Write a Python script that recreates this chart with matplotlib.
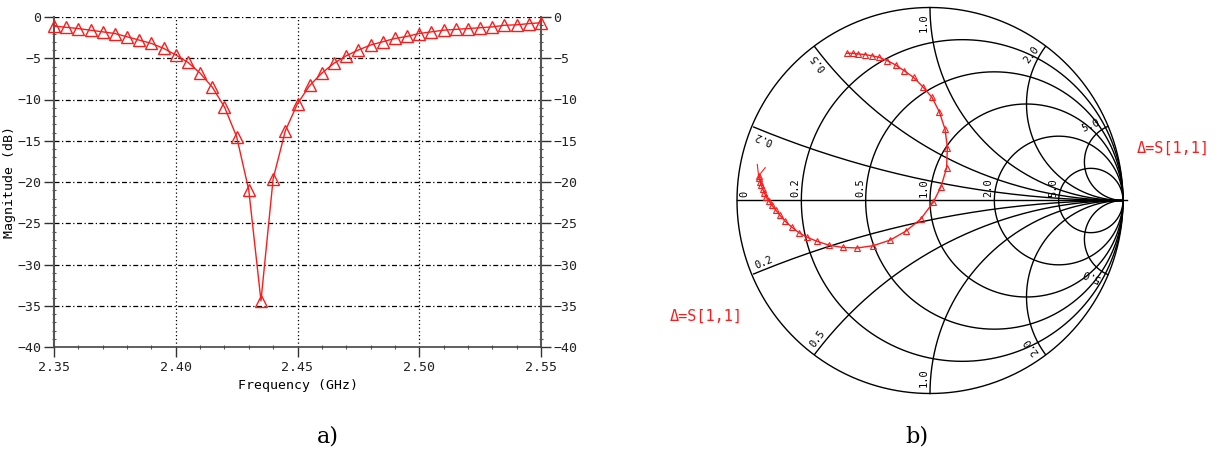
import numpy as np
import matplotlib
matplotlib.use("Agg")
import matplotlib.pyplot as plt
from matplotlib.ticker import MultipleLocator, FormatStrFormatter

# --- data a): return loss vs frequency ---
freq_ghz = [2.350, 2.355, 2.360, 2.365, 2.370, 2.375, 2.380, 2.385, 2.390, 2.395,
            2.400, 2.405, 2.410, 2.415, 2.420, 2.425, 2.430, 2.435, 2.440, 2.445,
            2.450, 2.455, 2.460, 2.465, 2.470, 2.475, 2.480, 2.485, 2.490, 2.495,
            2.500, 2.505, 2.510, 2.515, 2.520, 2.525, 2.530, 2.535, 2.540, 2.545,
            2.550]
s11_db = [-1.1, -1.25, -1.4, -1.6, -1.8, -2.0, -2.4, -2.8, -3.2, -3.8,
          -4.6, -5.5, -6.8, -8.5, -10.9, -14.5, -21.0, -34.4, -19.6, -13.8,
          -10.5, -8.3, -6.8, -5.6, -4.7, -4.0, -3.4, -3.0, -2.6, -2.35,
          -2.0, -1.8, -1.6, -1.5, -1.4, -1.3, -1.2, -1.0, -0.95, -0.8,
          -0.7]

# --- data b): S11 on the Smith chart (reflection coefficient) ---
gamma_re = [-0.432, -0.401, -0.371, -0.335, -0.301, -0.264, -0.221, -0.178, -0.135, -0.085,
            -0.038, 0.010, 0.048, 0.078, 0.090, 0.086, 0.057, 0.017, -0.048, -0.124,
            -0.206, -0.294, -0.377, -0.453, -0.522, -0.584, -0.636, -0.679, -0.717, -0.750,
            -0.777, -0.800, -0.820, -0.834, -0.850, -0.858, -0.867, -0.874, -0.879, -0.884,
            -0.888]
gamma_im = [0.763, 0.763, 0.759, 0.756, 0.750, 0.742, 0.725, 0.702, 0.673, 0.638,
            0.590, 0.535, 0.460, 0.369, 0.274, 0.168, 0.072, -0.009, -0.096, -0.158,
            -0.205, -0.234, -0.246, -0.243, -0.232, -0.212, -0.191, -0.167, -0.137, -0.108,
            -0.077, -0.049, -0.022, -0.003, 0.020, 0.041, 0.058, 0.079, 0.098, 0.115,
            0.127]
tail_re = [-0.895, -0.888, -0.854]   # sweep-end tick
tail_im = [0.187, 0.127, 0.170]

r_values = [0.2, 0.5, 1.0, 2.0, 5.0]
x_values = [0.2, 0.5, 1.0, 2.0, 5.0]

mono = "DejaVu Sans Mono"
red = "#ff1a1a"

W, H = 1228, 457
fig = plt.figure(figsize=(W / 100, H / 100), dpi=100)

# ---------------- a) ----------------
ax = fig.add_axes([54 / W, 1 - 347 / H, (541 - 54) / W, 330 / H])
ax.plot(freq_ghz, s11_db, color=red, lw=1.0, marker="^", ms=8,
        mfc="none", mec=red, mew=1.0, clip_on=False, zorder=3)
ax.set_xlim(2.35, 2.55)
ax.set_ylim(-40, 0)
ax.xaxis.set_major_locator(MultipleLocator(0.05))
ax.xaxis.set_major_formatter(FormatStrFormatter("%.2f"))
ax.yaxis.set_major_locator(MultipleLocator(5))
ax.yaxis.set_minor_locator(MultipleLocator(1))
ax.xaxis.set_minor_locator(MultipleLocator(0.01))

for y in np.arange(-35, 1, 5):
    ax.axhline(y, color="black", lw=0.9, ls=(0, (4, 2, 1, 2)), zorder=1)
for x in [2.40, 2.45, 2.50]:
    ax.axvline(x, color="black", lw=0.9, ls=(0, (1, 2)), zorder=1)

ax.spines["top"].set_visible(False)
for s in ["left", "right"]:
    ax.spines[s].set_color("#555555")
    ax.spines[s].set_linewidth(1.5)
ax.spines["bottom"].set_color("#444444")
ax.spines["bottom"].set_linewidth(1.2)

ax.tick_params(axis="y", which="major", direction="out", length=7, width=1,
               color="#333333", labelright=True, right=True, labelsize=9.5, pad=2)
ax.tick_params(axis="y", which="minor", direction="inout", length=3, width=0.8,
               color="#555555", right=True)
ax.tick_params(axis="x", which="major", direction="out", length=7, width=1,
               color="#333333", labelsize=9.5, pad=3)
ax.tick_params(axis="x", which="minor", direction="inout", length=3, width=0.8,
               color="#555555")
plt.setp(ax.yaxis.get_majorticklabels(), family=mono, color="#222222")
plt.setp(ax.xaxis.get_majorticklabels(), family=mono, color="#222222")
ax.set_xlabel("Frequency (GHz)", family=mono, fontsize=9.5, labelpad=4)
ax.set_ylabel("Magnitude (dB)", family=mono, fontsize=9.5)
ax.yaxis.set_label_coords(-0.078, 0.5)

# ---------------- b) Smith chart ----------------
cx, cy, R = 930, 200.5, 193
ax2 = fig.add_axes([640 / W, 0, (W - 640) / W, 1])
ax2.set_xlim((640 - cx) / R, (W - cx) / R)
ax2.set_ylim((cy - H) / R, cy / R)
ax2.axis("off")

t = np.linspace(0, 2 * np.pi, 721)
ax2.plot(np.cos(t), np.sin(t), color="black", lw=1.0)
ax2.plot([-1, 1.02], [0, 0], color="black", lw=1.0)
for r in r_values:
    c = r / (1 + r)
    rad = 1 / (1 + r)
    ax2.plot(c + rad * np.cos(t), rad * np.sin(t), color="black", lw=1.0)
for xv in x_values:
    rad = 1 / xv
    for sgn in (1, -1):
        px = 1 + rad * np.cos(t)
        py = sgn * rad + rad * np.sin(t)
        inside = px ** 2 + py ** 2 <= 1.0001
        px = np.where(inside, px, np.nan)
        py = np.where(inside, py, np.nan)
        ax2.plot(px, py, color="black", lw=1.0)

# labels on the real axis
axis_labels = ["0"] + ["%.1f" % r for r in r_values]
axis_pos = [-1 + 0.04] + [(r - 1) / (r + 1) - 0.03 for r in r_values]
for lab, g in zip(axis_labels, axis_pos):
    ax2.text(g, 0.02, lab, rotation=90, ha="center", va="bottom",
             family=mono, fontsize=7.5, color="black")

# labels on the rim for reactance arcs
for xv in x_values:
    for sgn in (1, -1):
        gr = (xv ** 2 - 1) / (xv ** 2 + 1)
        gi = sgn * 2 * xv / (xv ** 2 + 1)
        ang = np.degrees(np.arctan2(gi, gr))
        rot = ang if sgn > 0 else ang + 180
        tx, ty = -gi, gr  # tangential
        off = 0.035 * sgn
        lx = gr * 0.92 + tx * off
        ly = gi * 0.92 + ty * off
        ax2.text(lx, ly, "%.1f" % xv, rotation=rot, rotation_mode="anchor",
                 ha="center", va="center", family=mono, fontsize=7.5,
                 color="black")

ax2.plot(gamma_re, gamma_im, color=red, lw=1.0, marker="^", ms=4.5,
         mfc="none", mec=red, mew=0.8)
ax2.plot(tail_re, tail_im, color=red, lw=0.8)

ax2.text((1137 - cx) / R, (cy - 148) / R, "\u0394=S[1,1]", color=red,
         family=mono, fontsize=11, ha="left", va="center")
ax2.text((670 - cx) / R, (cy - 316) / R, "\u0394=S[1,1]", color=red,
         family=mono, fontsize=11, ha="left", va="center")

# captions
fig.text(328 / W, 1 - 437 / H, "a)", family="DejaVu Serif", fontsize=16,
         ha="center", va="center")
fig.text(917 / W, 1 - 437 / H, "b)", family="DejaVu Serif", fontsize=16,
         ha="center", va="center")

fig.savefig("out.png", dpi=100)
